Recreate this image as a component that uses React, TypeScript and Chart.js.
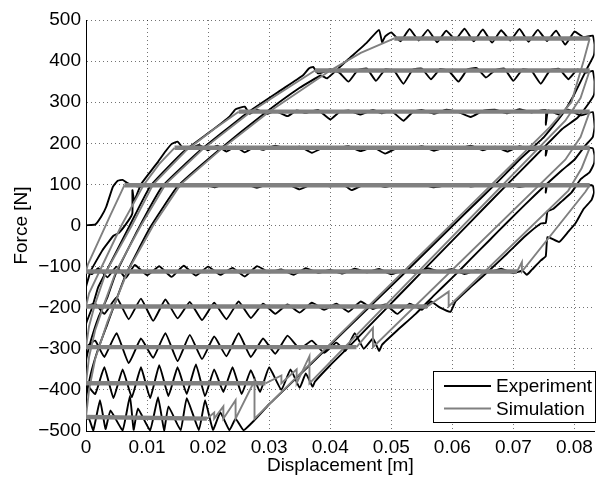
import { useEffect, useRef } from 'react';
import { Chart, registerables } from 'chart.js';

Chart.register(...registerables);

type Pt = [number, number];

// ---- axis ticks / labels ----
const xTicks = [0, 0.01, 0.02, 0.03, 0.04, 0.05, 0.06, 0.07, 0.08];
const xTickLabels = ['0', '0.01', '0.02', '0.03', '0.04', '0.05', '0.06', '0.07', '0.08'];
const yTicks = [-500, -400, -300, -200, -100, 0, 100, 200, 300, 400, 500];
const yTickLabels = ['\u2212500', '\u2212400', '\u2212300', '\u2212200', '\u2212100', '0', '100', '200', '300', '400', '500'];
const xTitle = 'Displacement [m]';
const yTitle = 'Force [N]';
const legendLabels = ['Experiment', 'Simulation'];

// ---- experiment (black) loops: [displacement m, force N] ----
const exp1: Pt[] = [
  [0, -112], [0, -60], [0, 0], [0.0015, 2], [0.0025, 22], [0.0033, 45], [0.0044, 94], [0.0052, 109], [0.006, 111], [0.0068, 103], [0.0076, 98],
  [0.009, 95], [0.0105, 101], [0.012, 97], [0.0135, 100], [0.015, 94], [0.0165, 101], [0.018, 96], [0.0195, 99], [0.021, 93], [0.0225, 100],
  [0.024, 96], [0.026, 101], [0.028, 92], [0.0295, 99], [0.031, 97], [0.033, 101], [0.035, 88], [0.0365, 97], [0.038, 100], [0.04, 95],
  [0.042, 101], [0.0435, 86], [0.045, 96], [0.047, 100], [0.049, 94], [0.051, 101], [0.053, 97], [0.055, 100], [0.057, 93], [0.059, 98],
  [0.061, 101], [0.063, 95], [0.065, 99], [0.067, 96], [0.069, 100], [0.071, 94], [0.073, 99], [0.0753, 97], [0.0753, 80], [0.0756, 100],
  [0.078, 96], [0.0805, 100], [0.083, 97],
  [0.0832, 80], [0.0828, 62], [0.0815, 40], [0.0802, 6], [0.079, -15], [0.0775, -40], [0.0756, -28], [0.0753, -75], [0.0745, -85],
  [0.073, -108], [0.0722, -120], [0.0715, -110],
  [0.07, -116], [0.068, -105], [0.066, -114], [0.064, -108], [0.062, -118], [0.06, -106], [0.058, -113], [0.056, -104], [0.054, -116],
  [0.052, -109], [0.05, -119], [0.048, -106], [0.046, -114], [0.044, -105], [0.042, -117], [0.04, -108], [0.038, -115], [0.036, -104],
  [0.034, -120], [0.032, -107], [0.03, -114], [0.028, -99], [0.026, -124], [0.024, -103], [0.022, -120], [0.02, -100], [0.018, -122],
  [0.016, -98], [0.014, -125], [0.012, -99], [0.01, -121], [0.008, -96], [0.0065, -128], [0.005, -100], [0.0035, -126], [0.002, -104],
  [0.001, -118], [0, -112],
];

const exp2: Pt[] = [
  [0, -197], [0, -150], [0.0008, -110], [0.0027, -60], [0.0045, -25], [0.0054, -18], [0.007, 13], [0.0076, 30], [0.0076, 86], [0.0079, 60],
  [0.009, 100], [0.0105, 130], [0.0118, 155], [0.013, 180], [0.014, 198], [0.015, 204], [0.0158, 190],
  [0.017, 186], [0.0185, 196], [0.02, 183], [0.0215, 194], [0.023, 180], [0.0245, 192], [0.026, 178], [0.0275, 190], [0.029, 184],
  [0.031, 194], [0.033, 186], [0.035, 192], [0.037, 177], [0.039, 190], [0.041, 187], [0.043, 193], [0.045, 181], [0.047, 191],
  [0.049, 175], [0.051, 189], [0.053, 186], [0.055, 193], [0.057, 182], [0.059, 191], [0.061, 187], [0.063, 194], [0.065, 183],
  [0.067, 192], [0.069, 180], [0.071, 193], [0.073, 184], [0.0753, 190], [0.0753, 170], [0.0757, 192], [0.078, 186], [0.0805, 191], [0.083, 188],
  [0.0833, 170], [0.0832, 150], [0.0825, 130], [0.081, 112], [0.0795, 80], [0.078, 60], [0.0765, 40], [0.0756, 35], [0.0753, 6],
  [0.0745, 5], [0.072, -25], [0.069, -68], [0.066, -110], [0.063, -150], [0.0605, -185], [0.0597, -210],
  [0.058, -200], [0.0565, -185], [0.055, -205], [0.053, -190], [0.051, -215], [0.049, -192], [0.047, -203], [0.045, -185], [0.043, -210],
  [0.041, -190], [0.039, -205], [0.037, -188], [0.035, -212], [0.033, -192], [0.031, -215], [0.029, -190], [0.027, -225], [0.025, -185],
  [0.023, -228], [0.021, -188], [0.019, -230], [0.017, -186], [0.015, -226], [0.013, -180], [0.011, -232], [0.009, -178], [0.007, -228],
  [0.005, -175], [0.003, -215], [0.0015, -190], [0, -197],
];

const exp3: Pt[] = [
  [0, -296], [0, -240], [0.001, -200], [0.002, -150], [0.0032, -115], [0.007, -5], [0.0105, 95], [0.016, 180], [0.0205, 230], [0.0235, 265],
  [0.0245, 283], [0.026, 289], [0.0268, 272],
  [0.028, 282], [0.0295, 271], [0.031, 279], [0.033, 266], [0.0345, 280], [0.036, 274], [0.038, 281], [0.04, 258], [0.0415, 276], [0.043, 280],
  [0.045, 270], [0.047, 281], [0.0485, 273], [0.05, 279], [0.052, 255], [0.0535, 276], [0.055, 281], [0.057, 272], [0.059, 282], [0.061, 276],
  [0.063, 264], [0.065, 279], [0.067, 282], [0.069, 273], [0.071, 283], [0.073, 275], [0.0753, 281], [0.0753, 245], [0.0757, 280],
  [0.0775, 270], [0.079, 282], [0.081, 268], [0.083, 276],
  [0.0833, 240], [0.083, 215], [0.0818, 195], [0.08, 160], [0.078, 135], [0.075, 95], [0.072, 52], [0.069, 8], [0.066, -37], [0.063, -82],
  [0.06, -127], [0.057, -170], [0.054, -215], [0.051, -255], [0.0485, -290], [0.048, -305],
  [0.047, -275], [0.0455, -300], [0.044, -262], [0.0425, -305], [0.041, -285], [0.039, -310], [0.037, -280], [0.035, -300], [0.033, -268],
  [0.031, -312], [0.029, -275], [0.027, -320], [0.025, -262], [0.023, -318], [0.021, -270], [0.019, -325], [0.017, -266], [0.015, -330],
  [0.013, -262], [0.011, -322], [0.009, -275], [0.007, -335], [0.005, -262], [0.003, -320], [0.0015, -280], [0, -296],
];

const exp4: Pt[] = [
  [0, -384], [0, -330], [0.0008, -280], [0.002, -225], [0.0035, -175], [0.0048, -120], [0.0085, -10], [0.0125, 95], [0.0185, 180],
  [0.0265, 275], [0.032, 330], [0.0355, 365], [0.0365, 382], [0.0372, 386], [0.038, 370], [0.039, 374],
  [0.04, 380], [0.0415, 372], [0.043, 350], [0.0445, 378], [0.046, 382], [0.0475, 352], [0.049, 380], [0.0505, 376], [0.052, 345],
  [0.0535, 379], [0.055, 382], [0.0565, 356], [0.058, 381], [0.0595, 375], [0.061, 350], [0.0625, 380], [0.064, 383], [0.0655, 360],
  [0.067, 378], [0.0685, 382], [0.07, 352], [0.0715, 380], [0.073, 376], [0.0745, 345], [0.076, 378], [0.0775, 381], [0.079, 356],
  [0.0805, 380], [0.082, 372], [0.083, 376],
  [0.0833, 350], [0.0832, 318], [0.082, 290], [0.0805, 262], [0.078, 235], [0.075, 190], [0.071, 130], [0.067, 70], [0.063, 9],
  [0.059, -52], [0.055, -113], [0.051, -174], [0.047, -235], [0.043, -296], [0.04, -340], [0.0375, -380], [0.0371, -392],
  [0.036, -360], [0.035, -395], [0.0335, -350], [0.032, -400], [0.03, -345], [0.0285, -405], [0.027, -352], [0.0255, -410], [0.024, -345],
  [0.0225, -405], [0.021, -350], [0.0195, -415], [0.018, -338], [0.0165, -410], [0.015, -345], [0.0135, -415], [0.012, -340],
  [0.0105, -420], [0.009, -345], [0.0075, -418], [0.006, -350], [0.0045, -420], [0.003, -345], [0.0015, -410], [0, -384],
];

const exp5: Pt[] = [
  [0, -471], [0, -420], [0.0008, -360], [0.002, -300], [0.0035, -240], [0.0065, -120], [0.0105, -5], [0.015, 95], [0.0215, 180],
  [0.029, 270], [0.035, 335], [0.0385, 365], [0.0395, 358], [0.043, 405], [0.046, 445], [0.048, 476], [0.0485, 446], [0.049, 460],
  [0.05, 470], [0.0515, 448], [0.053, 478], [0.0545, 450], [0.056, 476], [0.0575, 446], [0.059, 474], [0.0605, 452], [0.062, 479],
  [0.0635, 448], [0.065, 477], [0.0665, 445], [0.068, 475], [0.0695, 450], [0.071, 478], [0.0725, 447], [0.074, 476], [0.0755, 449],
  [0.077, 474], [0.0785, 440], [0.08, 472], [0.0815, 458], [0.083, 462],
  [0.0833, 440], [0.0832, 415], [0.082, 380], [0.08, 320], [0.078, 270], [0.075, 215], [0.071, 160], [0.067, 100], [0.062, 28],
  [0.057, -45], [0.052, -118], [0.047, -190], [0.042, -262], [0.037, -335], [0.033, -392], [0.03, -435], [0.0275, -475], [0.0258, -498],
  [0.0245, -470], [0.0235, -498], [0.022, -455], [0.0208, -497], [0.0195, -425], [0.0185, -498], [0.0165, -420], [0.0155, -498],
  [0.0135, -440], [0.0128, -498], [0.0118, -418], [0.0105, -498], [0.0085, -445], [0.0078, -497], [0.0072, -415], [0.006, -498],
  [0.004, -450], [0.0032, -495], [0.0023, -425], [0.0012, -498], [0.0005, -470], [0, -471],
];

// ---- simulation (grey) loops ----
const sim1: Pt[] = [
  [0, -112], [0.0003, -95], [0.002, -40], [0.004, 25], [0.0063, 98], [0.0825, 98],
  [0.0818, 82], [0.0714, -112], [0.0714, -89], [0.0706, -112], [0, -112],
];
const sim2: Pt[] = [
  [0, -197], [0.0005, -165], [0.0022, -112], [0.0058, 0], [0.0095, 100], [0.012, 150], [0.0145, 189], [0.0825, 189],
  [0.0812, 140], [0.079, 85], [0.0594, -197], [0.0594, -161], [0.0559, -197], [0, -197],
];
const sim3: Pt[] = [
  [0, -296], [0.0005, -245], [0.0015, -190], [0.0033, -112], [0.0075, 0], [0.011, 100], [0.0165, 184], [0.021, 235], [0.025, 277],
  [0.0825, 277], [0.081, 215], [0.0785, 160], [0.047, -296], [0.047, -249], [0.0443, -296], [0, -296],
];
const sim4: Pt[] = [
  [0, -384], [0.0005, -320], [0.0015, -255], [0.003, -190], [0.0049, -112], [0.009, 0], [0.013, 100], [0.019, 184], [0.027, 277],
  [0.032, 325], [0.0375, 377], [0.0825, 377], [0.081, 310], [0.0785, 255], [0.0366, -384], [0.0366, -318], [0.0345, -384],
  [0.0345, -350], [0.032, -384], [0.032, -365], [0.0294, -384], [0, -384],
];
const sim5: Pt[] = [
  [0, -466], [0.0005, -400], [0.0015, -325], [0.0035, -235], [0.0068, -112], [0.011, 0], [0.0155, 100], [0.022, 184], [0.03, 277],
  [0.04, 377], [0.045, 420], [0.0505, 455], [0.0825, 455], [0.0815, 400], [0.0795, 300], [0.076, 240], [0.0276, -470],
  [0.0276, -378], [0.0245, -470], [0.0245, -425], [0.0225, -470], [0.0225, -440], [0.021, -470], [0.021, -455], [0.0198, -470], [0, -466],
];

const expSeries = [exp1, exp2, exp3, exp4, exp5];
const simSeries = [sim1, sim2, sim3, sim4, sim5];

const EXP_COLOR = '#000000';
const SIM_COLOR = '#808080';
const FONT = '"Liberation Sans", Arial, Helvetica, sans-serif';

const toXY = (a: Pt[]) => a.map(([x, y]) => ({ x, y }));

const legendPlugin = {
  id: 'boxLegend',
  afterDraw(chart: any) {
    const { ctx, chartArea } = chart;
    const w = 163;
    const h = 52;
    const left = Math.round(chartArea.right - w + 1);
    const top = Math.round(chartArea.bottom - h - 8);
    ctx.save();
    ctx.fillStyle = '#ffffff';
    ctx.fillRect(left, top, w, h);
    ctx.strokeStyle = '#000000';
    ctx.lineWidth = 1;
    ctx.strokeRect(left + 0.5, top + 0.5, w - 1, h - 1);
    ctx.font = `19px ${FONT}`;
    ctx.textBaseline = 'middle';
    ctx.textAlign = 'left';
    const colors = [EXP_COLOR, SIM_COLOR];
    legendLabels.forEach((lab, i) => {
      const y = top + 15 + i * 22.6;
      ctx.strokeStyle = colors[i];
      ctx.lineWidth = 2;
      ctx.beginPath();
      ctx.moveTo(left + 11, y);
      ctx.lineTo(left + 58, y);
      ctx.stroke();
      ctx.fillStyle = '#000000';
      ctx.fillText(lab, left + 63, y + 1);
    });
    ctx.restore();
  },
};

export default function App() {
  const ref = useRef<HTMLCanvasElement | null>(null);

  useEffect(() => {
    if (!ref.current) return;
    const expSets = expSeries.map((s, i) => ({
      label: i === 0 ? legendLabels[0] : `${legendLabels[0]} ${i + 1}`,
      data: toXY(s),
      showLine: true,
      borderColor: EXP_COLOR,
      backgroundColor: EXP_COLOR,
      borderWidth: 1.9,
      pointRadius: 0,
      pointHoverRadius: 0,
      tension: 0.12,
      fill: false,
      order: 2,
      borderJoinStyle: 'round' as const,
    }));
    const simSets = simSeries.map((s, i) => ({
      label: i === 0 ? legendLabels[1] : `${legendLabels[1]} ${i + 1}`,
      data: toXY(s),
      showLine: true,
      borderColor: SIM_COLOR,
      backgroundColor: SIM_COLOR,
      borderWidth: 1.9,
      pointRadius: 0,
      pointHoverRadius: 0,
      tension: 0,
      fill: false,
      order: 1,
      segment: {
        borderWidth: (c: any) =>
          Math.abs(c.p0.parsed.y - c.p1.parsed.y) <= 5 && Math.abs(c.p0.parsed.x - c.p1.parsed.x) > 0.002 ? 4.4 : 1.9,
      },
    }));

    const chart = new Chart(ref.current, {
      type: 'scatter',
      data: { datasets: [...expSets, ...simSets] as any },
      options: {
        animation: false,
        responsive: false,
        events: [],
        layout: { padding: { left: 0, right: 2, top: 20, bottom: 0 } },
        plugins: {
          legend: { display: false },
          tooltip: { enabled: false },
        },
        scales: {
          x: {
            type: 'linear',
            min: 0,
            max: 0.0833,
            afterBuildTicks: (ax: any) => {
              ax.ticks = xTicks.map((v) => ({ value: v }));
            },
            afterFit: (s: any) => {
              s.height = 49;
            },
            ticks: {
              autoSkip: false,
              maxRotation: 0,
              padding: 5,
              color: '#000',
              font: { family: FONT, size: 19 },
              callback: (_v: any, i: number) => xTickLabels[i],
            },
            grid: { color: 'rgba(0,0,0,0.55)', lineWidth: 1, drawTicks: false },
            border: { display: true, color: '#000', width: 1, dash: [1, 3] },
            title: {
              display: true,
              text: xTitle,
              color: '#000',
              font: { family: FONT, size: 19 },
              padding: { top: 2, bottom: 3 },
            },
          },
          y: {
            type: 'linear',
            min: -500,
            max: 500,
            afterBuildTicks: (ax: any) => {
              ax.ticks = yTicks.map((v) => ({ value: v }));
            },
            afterFit: (s: any) => {
              s.width = 86;
            },
            ticks: {
              autoSkip: false,
              padding: 5,
              color: '#000',
              font: { family: FONT, size: 19 },
              callback: (_v: any, i: number) => yTickLabels[i],
            },
            grid: { color: 'rgba(0,0,0,0.55)', lineWidth: 1, drawTicks: false },
            border: { display: true, color: '#000', width: 1, dash: [1, 3] },
            title: {
              display: true,
              text: yTitle,
              color: '#000',
              font: { family: FONT, size: 19 },
              padding: { top: 10, bottom: 2 },
            },
          },
        },
      },
      plugins: [legendPlugin],
    });
    return () => chart.destroy();
  }, []);

  return (
    <div style={{ position: 'fixed', left: 0, top: 0, width: 598, height: 480, background: '#fff' }}>
      <canvas ref={ref} width={598} height={480} style={{ display: 'block', width: 598, height: 480 }} />
    </div>
  );
}
